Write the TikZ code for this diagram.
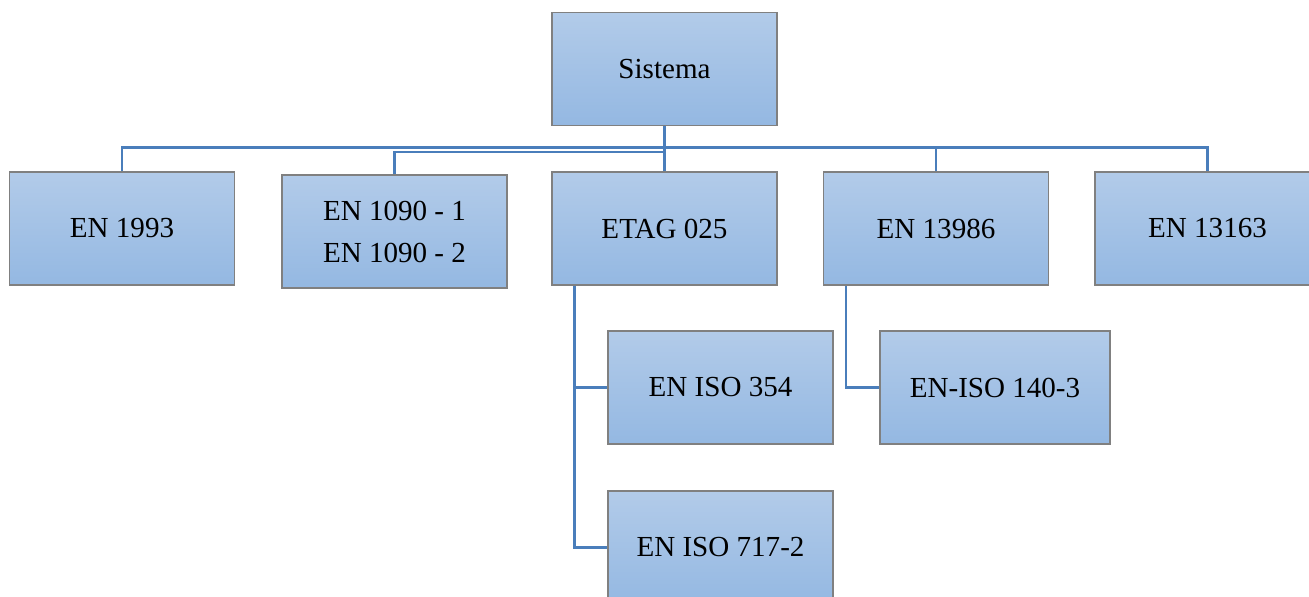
\documentclass[tikz,border=0pt]{standalone}
\usepackage{fontspec}
\setmainfont{Liberation Serif}
\definecolor{boxtop}{RGB}{178,203,233}
\definecolor{boxbot}{RGB}{148,184,226}
\definecolor{boxline}{RGB}{128,128,128}
\definecolor{linkblue}{RGB}{74,126,187}
\tikzset{
  stdbox/.style={rectangle, draw=boxline, line width=0.9pt,
    top color=boxtop, bottom color=boxbot,
    minimum width=168.75pt, minimum height=84.75pt, inner sep=0pt,
    align=center, font=\fontsize{21.8}{31.5}\selectfont},
  link/.style={draw=linkblue, line width=1.7pt}
}
\begin{document}
\begin{tikzpicture}[x=0.75pt,y=-0.75pt]
  \useasboundingbox (0,0) rectangle (1309,596);
  \clip (0,0) rectangle (1309,596);

  % boxes (centres in pixel grid, y downwards)
  \node[stdbox] (sys)    at (664.5,69)    {Sistema};
  \node[stdbox] (en1993) at (122,228.5)   {EN 1993};
  \node[stdbox] (en1090) at (394.5,231.5) {EN 1090 - 1\\EN 1090 - 2};
  \node[stdbox] (etag)   at (664.5,228.5) {ETAG 025};
  \node[stdbox] (en13986) at (936,228.5)  {EN 13986};
  \node[stdbox] (en13163) at (1207.5,228.5) {EN 13163};
  \node[stdbox] (iso354) at (720.5,387.5) {EN ISO 354};
  \node[stdbox] (iso717) at (720.5,547.5) {EN ISO 717-2};
  \node[stdbox, minimum width=172.5pt] (iso140) at (995,387.5) {EN-ISO 140-3};

  % connectors
  \draw[link] (sys.south) -- (etag.north);
  \draw[link] (en1993.north) -- ++(0,-24) -| (en13163.north);
  \draw[link] (en13986.north) -- ++(0,-24);
  \draw[link] (en1090.north) -- ++(0,-22.5) -| (sys.south);
  \draw[link] ([xshift=17.25pt]etag.south west) |- (iso354.west);
  \draw[link] ([xshift=17.25pt]etag.south west) |- (iso717.west);
  \draw[link] ([xshift=17.25pt]en13986.south west) |- (iso140.west);
\end{tikzpicture}
\end{document}
